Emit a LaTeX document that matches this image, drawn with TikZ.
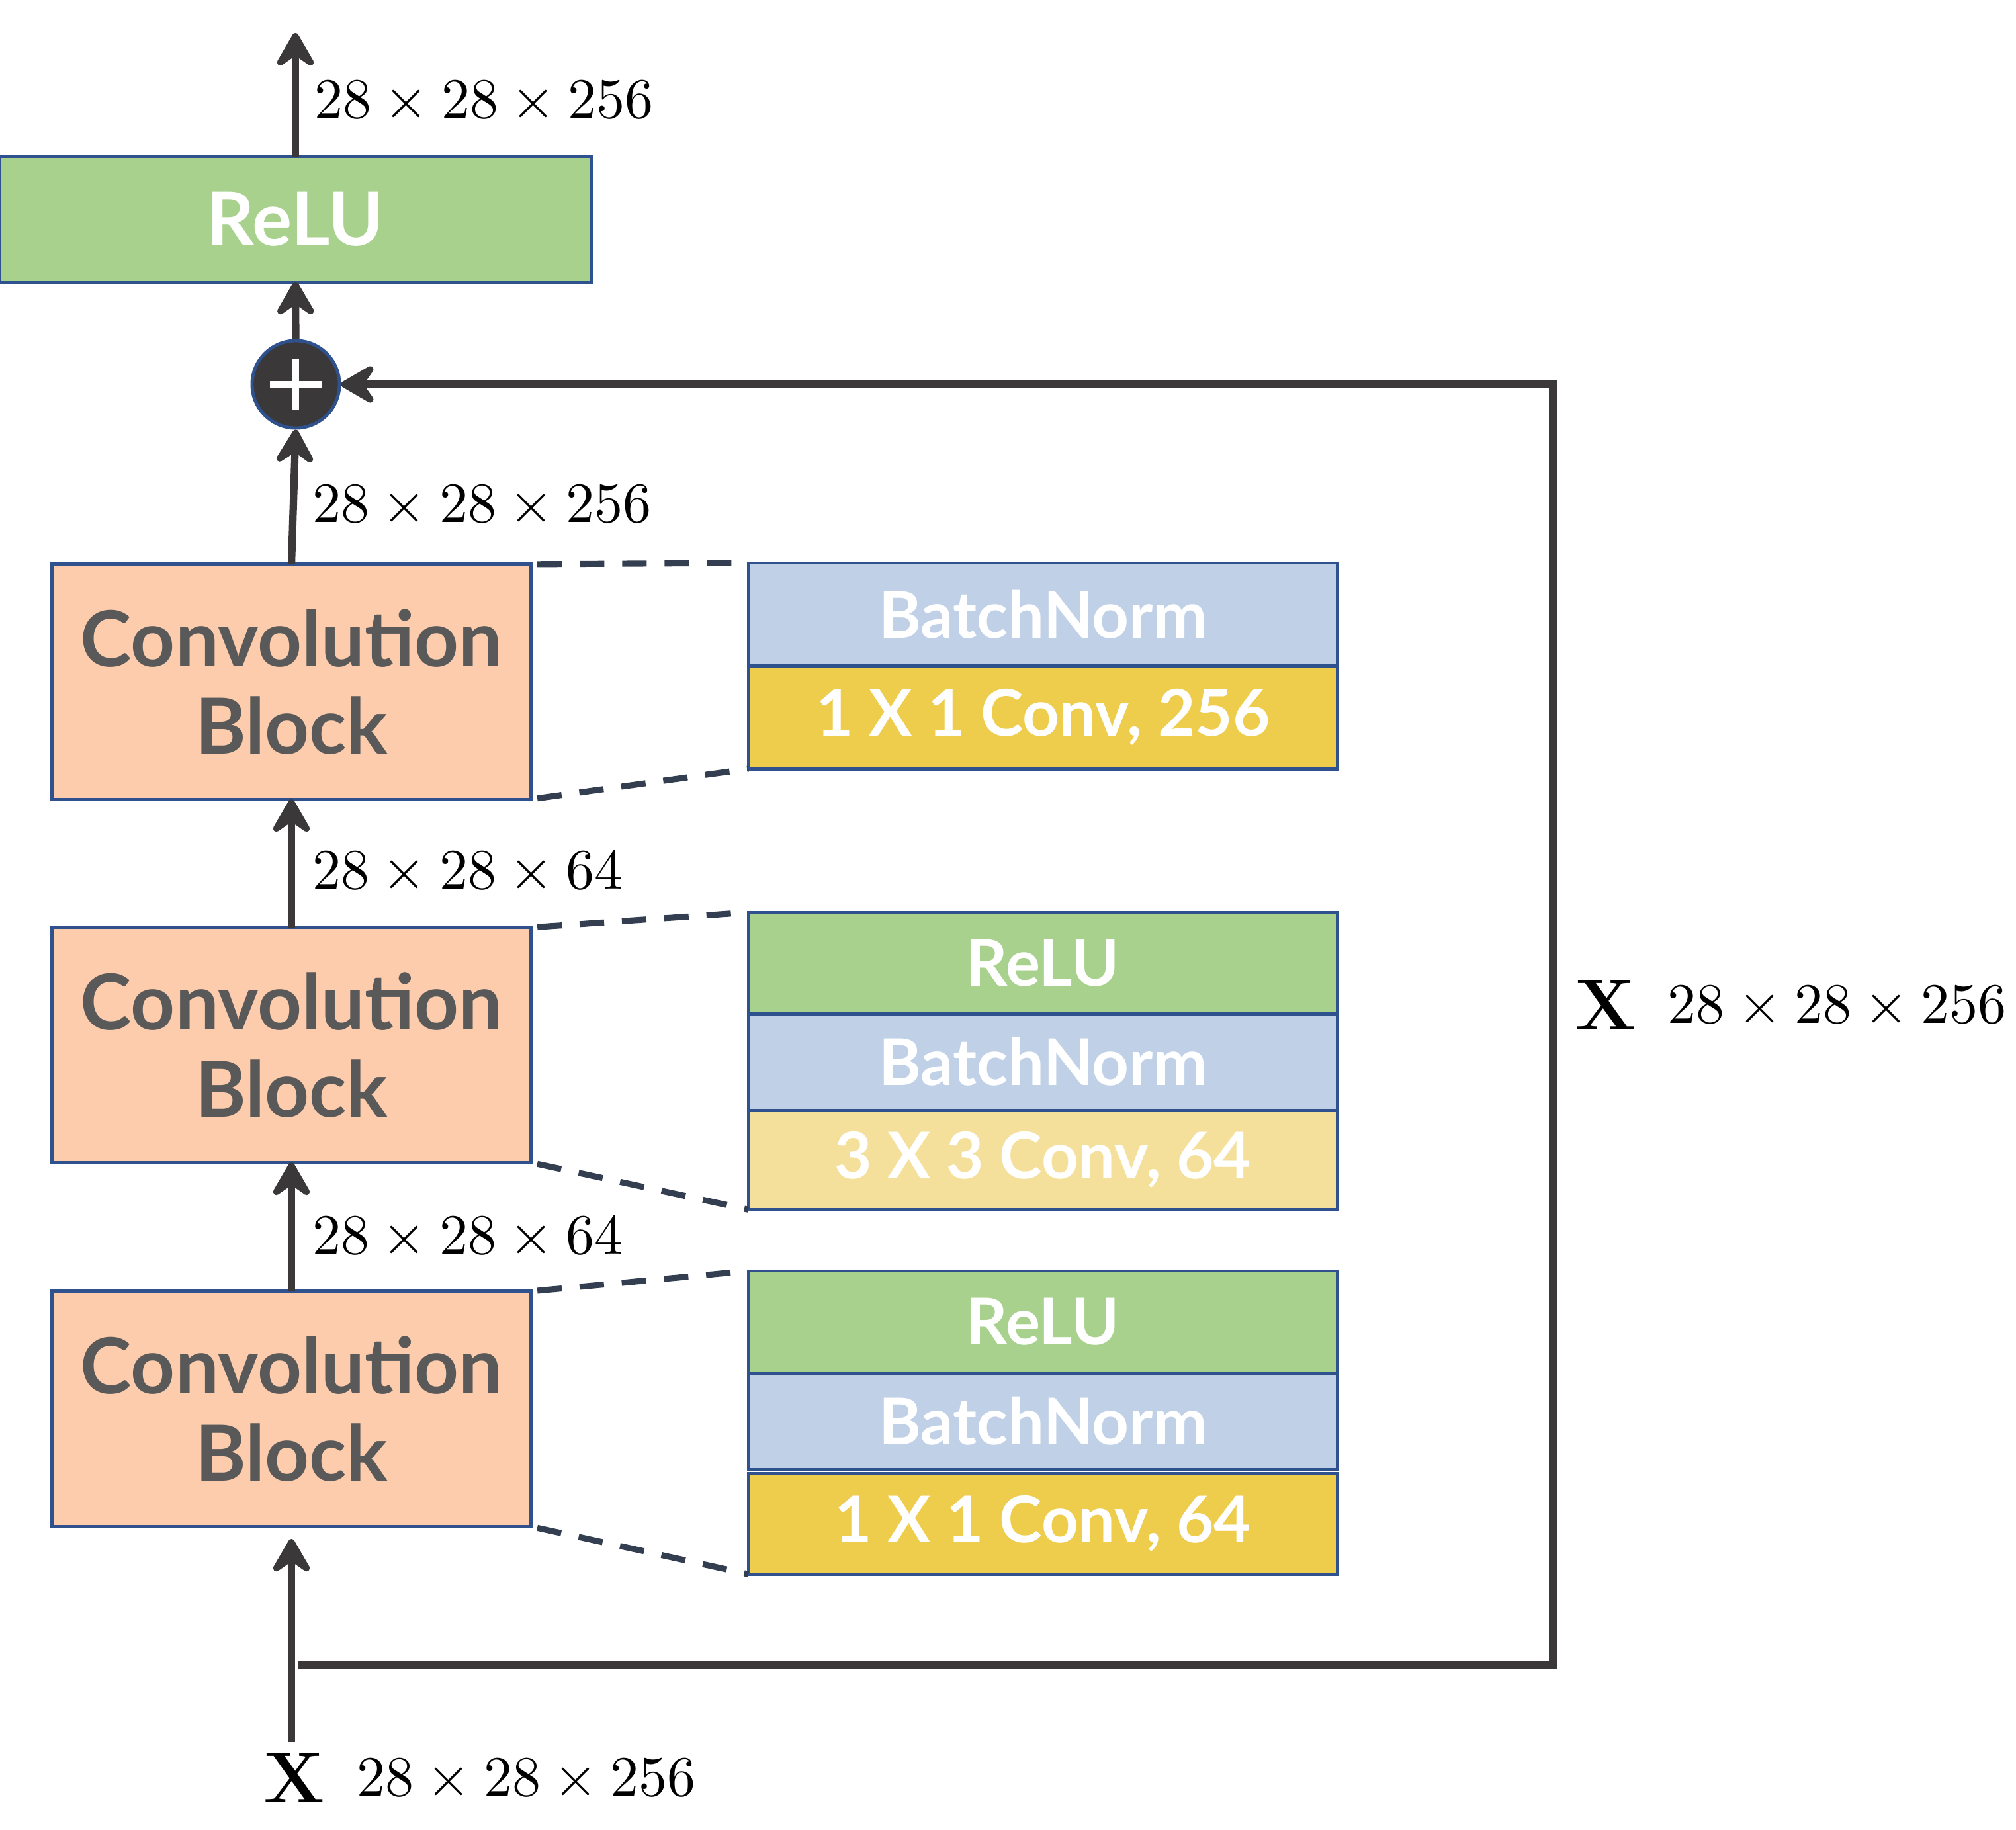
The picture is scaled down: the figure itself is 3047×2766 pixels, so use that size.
\documentclass[tikz,border=0pt]{standalone}
\usepackage{unicode-math}
\usetikzlibrary{arrows.meta,positioning}
\newfontfamily\boxfont{Lato}
\definecolor{ReluGreen}{RGB}{169,209,142}
\definecolor{NormBlue}{RGB}{192,209,231}
\definecolor{ConvYellow}{RGB}{238,204,76}
\definecolor{ConvLight}{RGB}{245,224,155}
\definecolor{BlockPeach}{RGB}{252,204,173}
\definecolor{EdgeBlue}{RGB}{47,82,143}
\definecolor{LabelGray}{RGB}{89,89,89}
\definecolor{FlowGray}{RGB}{58,56,56}
\definecolor{DashSlate}{RGB}{51,63,80}
\tikzset{
  convblock/.style={draw=EdgeBlue,line width=1.4pt,fill=BlockPeach,outer sep=0pt,
    minimum width=7.23cm,minimum height=3.55cm,align=center,text=LabelGray,
    font=\boxfont\bfseries\fontsize{33.2}{37.5}\selectfont},
  layerbox/.style={draw=EdgeBlue,line width=1.4pt,outer sep=0pt,minimum width=8.9cm,
    align=center,text=white,font=\boxfont\bfseries\fontsize{27.7}{30}\selectfont},
  flowarrow/.style={-{Stealth[length=6.5mm,width=7.5mm,inset=2.6mm,round]},
    line width=3.2pt,draw=FlowGray},
  zoomline/.style={line width=2.6pt,draw=DashSlate,dash pattern=on 3.7mm off 2.7mm},
  dimlabel/.style={anchor=west,inner sep=0pt,font=\fontsize{24.5}{28}\selectfont},
  inputmark/.style={inner sep=0pt,font=\fontsize{31}{36}\selectfont},
}
\begin{document}
\begin{tikzpicture}[x=0.01cm,y=-0.01cm,node distance=0pt]
  \useasboundingbox (0,0) rectangle (3047,2766);
  \node[layerbox,fill=ReluGreen,minimum width=8.93cm,minimum height=1.89cm,
    font=\boxfont\bfseries\fontsize{32}{36}\selectfont] (relu) at (446.5,331.5) {ReLU};
  \node[circle,draw=EdgeBlue,line width=1.4pt,fill=FlowGray,minimum size=1.32cm,
    inner sep=0pt] (sum) at (447,581) {};
  \draw[white,line width=3.1pt] (sum.center) ++(-39,0) -- ++(78,0);
  \draw[white,line width=3.1pt] (sum.center) ++(0,-39) -- ++(0,78);

  \node[convblock] (blockC) at (440.5,1030.5) {Convolution\\Block};
  \node[convblock] (blockB) at (440.5,1579.5) {Convolution\\Block};
  \node[convblock] (blockA) at (440.5,2129.5) {Convolution\\Block};

  \node[layerbox,fill=NormBlue,minimum height=1.55cm,anchor=north west] (normC) at (1131,851) {BatchNorm};
  \node[layerbox,fill=ConvYellow,minimum height=1.56cm,below=of normC] (convC) {1 X 1 Conv, 256};
  \node[layerbox,fill=ReluGreen,minimum height=1.53cm,anchor=north west] (reluB) at (1131,1379) {ReLU};
  \node[layerbox,fill=NormBlue,minimum height=1.46cm,below=of reluB] (normB) {BatchNorm};
  \node[layerbox,fill=ConvLight,minimum height=1.5cm,below=of normB] (convB) {3 X 3 Conv, 64};
  \node[layerbox,fill=ReluGreen,minimum height=1.54cm,anchor=north west] (reluA) at (1131,1921) {ReLU};
  \node[layerbox,fill=NormBlue,minimum height=1.46cm,below=of reluA] (normA) {BatchNorm};
  \node[layerbox,fill=ConvYellow,minimum height=1.52cm,below=0.06cm of normA] (convA) {1 X 1 Conv, 64};

  \draw[zoomline,shorten <=1mm] (blockC.north east) -- (normC.north west);
  \draw[zoomline,shorten <=1mm] (blockC.south east) -- (convC.south west);
  \draw[zoomline,shorten <=1mm] (blockB.north east) -- (reluB.north west);
  \draw[zoomline,shorten <=1mm] (blockB.south east) -- (convB.south west);
  \draw[zoomline,shorten <=1mm] (blockA.north east) -- (reluA.north west);
  \draw[zoomline,shorten <=1mm] (blockA.south east) -- (convA.south west);

  \node[dimlabel] (dimOut) at (475,151) {$28\times28\times256$};
  \node[dimlabel] (dimC) at (472,762) {$28\times28\times256$};
  \node[dimlabel] (dimB) at (472,1315) {$28\times28\times64$};
  \node[dimlabel] (dimA) at (472,1867) {$28\times28\times64$};
  \node[inputmark] (xIn) at (445,2687) {$\mathbf{X}$};
  \node[dimlabel] (dimIn) at (539,2687) {$28\times28\times256$};
  \node[inputmark] (xSkip) at (2427,1519) {$\mathbf{X}$};
  \node[dimlabel] (dimSkip) at (2520,1519) {$28\times28\times256$};

  \coordinate (out) at (446.5,50);
  \coordinate (in) at (440.5,2633);
  \coordinate (split) at (450,2517);
  \coordinate (skipturn) at (2347,2517);
  \draw[flowarrow] (relu.north) -- (out);
  \draw[flowarrow] (sum.north) -- (relu.south);
  \draw[flowarrow] (blockC.north) -- (sum.south);
  \draw[flowarrow] (blockB.north) -- (blockC.south);
  \draw[flowarrow] (blockA.north) -- (blockB.south);
  \draw[flowarrow,shorten >=1.9mm] (in) -- (blockA.south);
  \draw[flowarrow] (split) -- (skipturn) |- (sum.east);
\end{tikzpicture}
\end{document}
